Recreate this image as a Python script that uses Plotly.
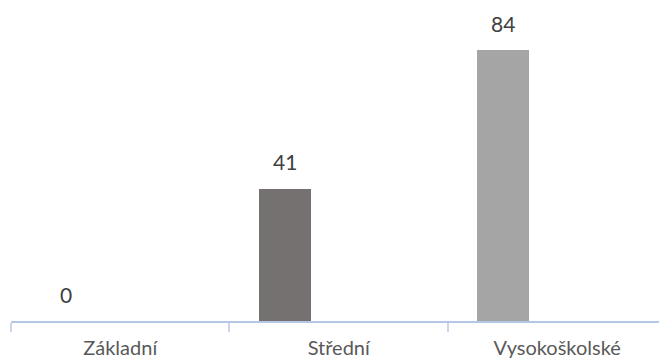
import plotly.graph_objects as go

# Education level counts
categories = ["Základní", "Střední", "Vysokoškolské"]
values = [0, 41, 84]
bar_colors = ["#595959", "#767171", "#A5A5A5"]

BAR_WIDTH = 0.238
BAR_OFFSET = -0.367

fig = go.Figure()
fig.add_trace(go.Bar(
    x=categories,
    y=values,
    marker=dict(color=bar_colors, line=dict(width=0)),
    width=BAR_WIDTH,
    offset=BAR_OFFSET,
    hoverinfo="skip",
))

# value labels above each bar
for i, v in enumerate(values):
    fig.add_annotation(
        x=i + BAR_OFFSET + BAR_WIDTH / 2,
        y=v,
        xref="x",
        yref="y",
        text=str(v),
        showarrow=False,
        yanchor="middle",
        yshift=27,
        font=dict(family="Lato", size=21, color="#404040"),
    )

fig.update_layout(
    width=659,
    height=362,
    margin=dict(l=11, r=0, t=15, b=41),
    paper_bgcolor="white",
    plot_bgcolor="white",
    showlegend=False,
    bargap=0,
)
fig.update_xaxes(
    type="category",
    range=[-0.5, 2.466],
    automargin=False,
    tickson="boundaries",
    ticks="outside",
    ticklen=9,
    tickwidth=1.5,
    tickcolor="#C9D6EE",
    ticklabelstandoff=8,
    showline=True,
    linecolor="#B4C7E7",
    linewidth=1.5,
    showgrid=False,
    tickfont=dict(family="Lato", size=20, color="#595959"),
)
fig.update_yaxes(
    range=[0, 95],
    visible=False,
    automargin=False,
    showgrid=False,
    zeroline=False,
)

fig.write_html("out.html")
